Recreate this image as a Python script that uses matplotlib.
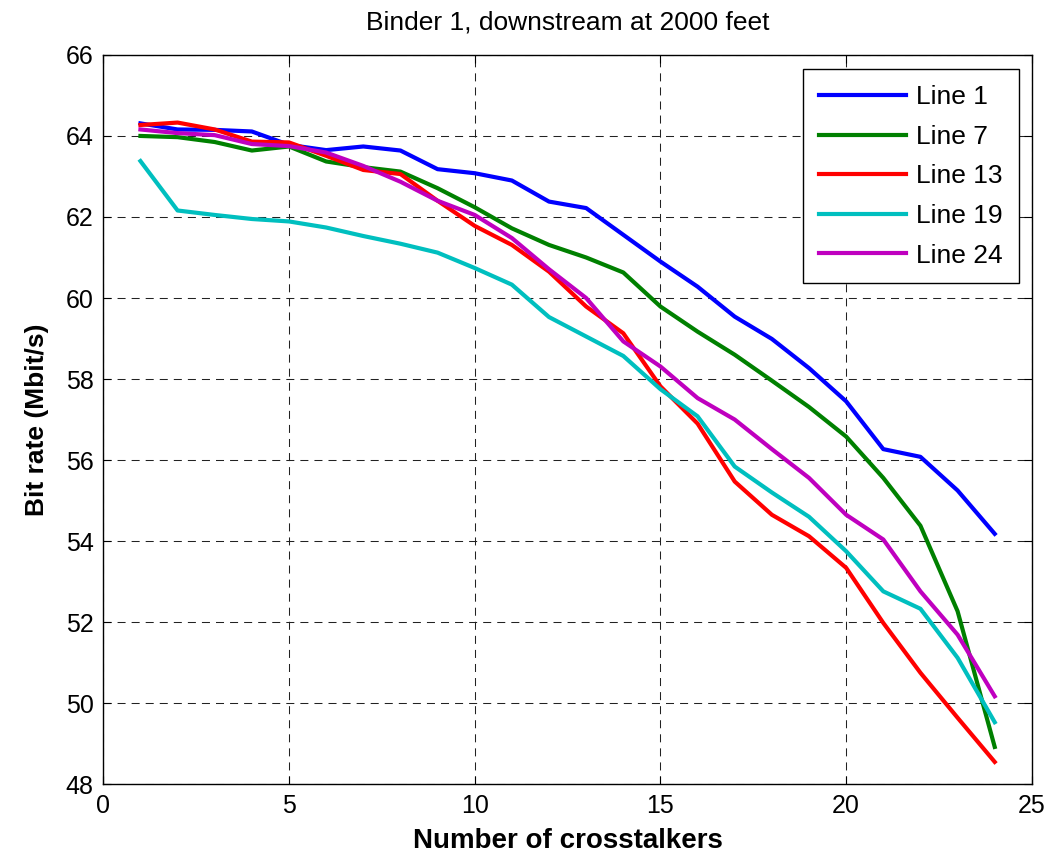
import matplotlib
matplotlib.use('Agg')
import matplotlib.pyplot as plt
import numpy as np

plt.rcParams['font.family'] = ['Liberation Sans', 'DejaVu Sans']

# number of crosstalkers
crosstalkers = list(range(1, 25))

line_1 = [64.31, 64.16, 64.15, 64.11, 63.78, 63.65, 63.74, 63.64, 63.18, 63.08,
          62.90, 62.38, 62.22, 61.56, 60.90, 60.28, 59.54, 58.99, 58.27, 57.45,
          56.27, 56.08, 55.25, 54.18]
line_7 = [64.00, 63.97, 63.85, 63.64, 63.74, 63.37, 63.23, 63.12, 62.71, 62.24,
          61.72, 61.31, 61.00, 60.63, 59.79, 59.17, 58.60, 57.96, 57.31, 56.58,
          55.56, 54.38, 52.27, 48.92]
line_13 = [64.27, 64.33, 64.16, 63.86, 63.84, 63.51, 63.16, 63.06, 62.40, 61.78,
           61.31, 60.65, 59.79, 59.13, 57.82, 56.90, 55.47, 54.65, 54.12, 53.34,
           51.98, 50.75, 49.64, 48.55]
line_19 = [63.38, 62.16, 62.05, 61.95, 61.89, 61.74, 61.53, 61.34, 61.12, 60.74,
           60.33, 59.53, 59.05, 58.57, 57.75, 57.08, 55.84, 55.20, 54.60, 53.75,
           52.76, 52.33, 51.12, 49.53]
line_24 = [64.16, 64.07, 64.02, 63.80, 63.75, 63.59, 63.26, 62.87, 62.40, 62.05,
           61.48, 60.71, 60.00, 58.93, 58.31, 57.53, 57.00, 56.27, 55.56, 54.65,
           54.04, 52.76, 51.69, 50.17]

series = [line_1, line_7, line_13, line_19, line_24]
labels = ['Line 1', 'Line 7', 'Line 13', 'Line 19', 'Line 24']
colors = ['#0000ff', '#008000', '#ff0000', '#00bfbf', '#bf00bf']

fig = plt.figure(figsize=(10.54, 8.58), dpi=100)
ax = fig.add_axes([0.098, 0.086, 0.881, 0.850])

for vals, lab, c in zip(series, labels, colors):
    ax.plot(crosstalkers, vals, color=c, lw=3.0, label=lab)

ax.set_xlim(0, 25)
ax.set_ylim(48, 66)
ax.set_xticks(np.arange(0, 26, 5))
ax.set_yticks(np.arange(48, 67, 2))
ax.tick_params(direction='in', top=True, right=True, labelsize=18, length=6, pad=7)
ax.grid(True, color='#222222', linestyle=(0, (7.7, 5.8)), lw=0.75)
for s in ax.spines.values():
    s.set_linewidth(1.0)

ax.set_xlabel('Number of crosstalkers', fontsize=20, fontweight='bold', labelpad=7)
ax.set_ylabel('Bit rate (Mbit/s)', fontsize=19, fontweight='bold', labelpad=12)
ax.set_title('Binder 1, downstream at 2000 feet', fontsize=19, pad=18)

leg = ax.legend(loc='upper right', fontsize=19, fancybox=False, framealpha=1,
                edgecolor='black', handlelength=3.3, handletextpad=0.4,
                labelspacing=0.59, borderpad=0.6, borderaxespad=0,
                bbox_to_anchor=(0.986, 0.980))
leg.get_frame().set_linewidth(1.0)

fig.savefig('out.png', dpi=100)
